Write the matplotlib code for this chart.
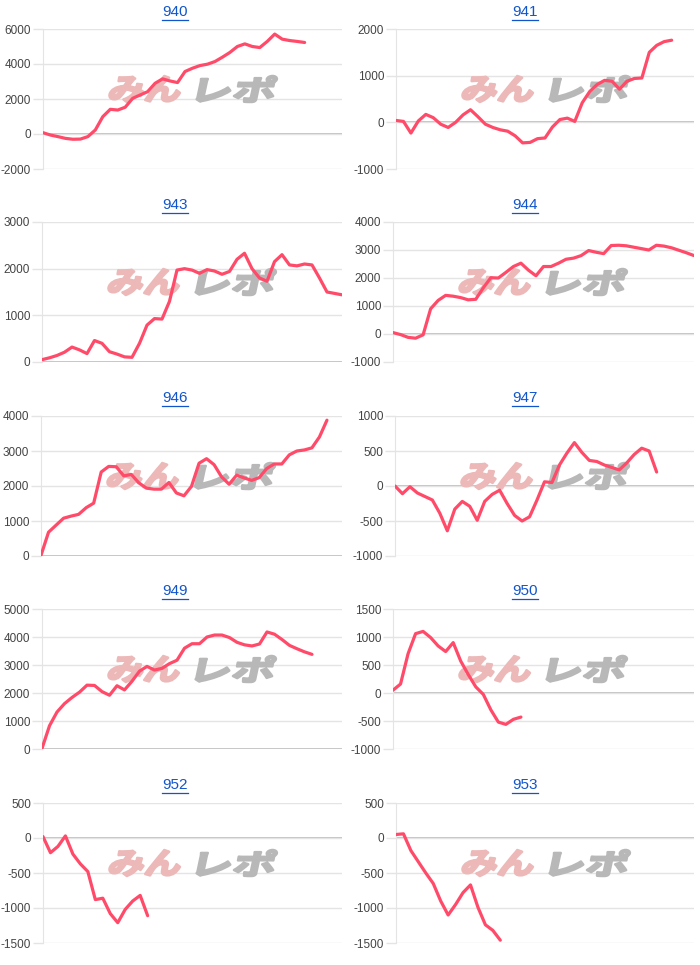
import numpy as np
import matplotlib.pyplot as plt
import matplotlib.transforms as mtransforms
from matplotlib.textpath import TextPath
from matplotlib.patches import PathPatch
from matplotlib.font_manager import FontProperties

plt.rcParams['font.family'] = ['Liberation Sans', 'DejaVu Sans']
plt.rcParams['axes.unicode_minus'] = False

# panel titles and y-axis settings
titles = ['940', '941', '943', '944', '946', '947', '949', '950', '952', '953']
y_min = [-2000, -1000, 0, -1000, 0, -1000, 0, -1000, -1500, -1500]
y_max = [6000, 2000, 3000, 4000, 4000, 1000, 5000, 1500, 500, 500]
y_step = [2000, 1000, 1000, 1000, 1000, 500, 1000, 500, 500, 500]

# series values (even steps on a shared x range)
s940 = [75, -60, -150, -250, -300, -290, -150, 230, 990, 1410, 1370, 1530, 2040, 2230,
        2420, 2900, 3150, 3030, 2940, 3570, 3760, 3910, 3990, 4140, 4390, 4660, 5000,
        5150, 5000, 4940, 5290, 5710, 5420, 5340, 5290, 5230]
s941 = [40, 20, -230, 30, 170, 100, -40, -110, 0, 160, 270, 120, -40, -110, -160, -190,
        -290, -440, -430, -350, -335, -100, 60, 90, 20, 420, 660, 810, 900, 880, 710, 880,
        940, 950, 1500, 1650, 1730, 1760]
s943 = [50, 90, 140, 210, 320, 260, 180, 460, 400, 220, 170, 110, 100, 400, 790, 930, 920,
        1300, 1970, 2000, 1970, 1900, 1980, 1950, 1880, 1940, 2200, 2330, 2000, 1800, 1730,
        2150, 2300, 2080, 2060, 2100, 2080, 1800, 1500, 1470, 1440]
s944 = [50, -20, -120, -150, -30, 900, 1200, 1380, 1350, 1300, 1220, 1240, 1650, 2010, 2000,
        2200, 2410, 2530, 2280, 2080, 2410, 2410, 2530, 2670, 2710, 2800, 2980, 2920, 2870,
        3160, 3170, 3150, 3100, 3050, 3000, 3170, 3140, 3080, 2990, 2900, 2800]
s946 = [20, 680, 880, 1080, 1140, 1190, 1380, 1510, 2400, 2560, 2550, 2290, 2330, 2090, 1940,
        1910, 1910, 2100, 1800, 1720, 1990, 2650, 2780, 2610, 2260, 2050, 2310, 2230, 2160,
        2240, 2500, 2630, 2630, 2890, 3000, 3030, 3090, 3400, 3880]
s947 = [0, -110, -10, -100, -150, -200, -390, -640, -330, -220, -290, -490, -220, -120, -60,
        -250, -420, -500, -440, -200, 60, 50, 300, 470, 620, 480, 365, 350, 300, 265, 230,
        330, 450, 540, 500, 200]
s949 = [20, 830, 1320, 1620, 1840, 2030, 2280, 2270, 2050, 1920, 2260, 2110, 2420, 2780, 2950,
        2820, 2880, 3050, 3170, 3600, 3760, 3760, 4000, 4070, 4070, 3980, 3810, 3720, 3680,
        3750, 4180, 4100, 3910, 3700, 3580, 3470, 3380]
s950 = [50, 160, 700, 1060, 1100, 990, 840, 740, 900, 570, 330, 110, -25, -300, -520, -560,
        -470, -430]
s952 = [20, -210, -120, 30, -230, -370, -480, -880, -860, -1080, -1210, -1020, -900, -820,
        -1110]
s953 = [50, 60, -180, -340, -500, -650, -900, -1100, -950, -780, -670, -990, -1240, -1320,
        -1460]
series = [s940, s941, s943, s944, s946, s947, s949, s950, s952, s953]
x_max = 40

W, H = 700, 965
fig = plt.figure(figsize=(W / 100, H / 100), dpi=100)

# layout in pixels
lefts = [43, 396, 42, 393, 41, 395, 42, 393, 43, 396]
rights = [342, 694]
tops = [29, 222, 416, 609, 803]
plot_h = 140
title_y = [12, 205, 398, 591, 785]
title_x = [175, 525]

wm_font = FontProperties(family='Noto Sans CJK JP', weight='bold')


def watermark(ax, text, x0, x1, y0, y1, color):
    # stretch a text path into a box given in pixels from the axes' lower left
    tp = TextPath((0, 0), text, size=1, prop=wm_font)
    bb = tp.get_extents()
    bw = ax.bbox.width
    bh = ax.bbox.height
    tr = (mtransforms.Affine2D()
          .translate(-bb.x0, -bb.y0)
          .scale((x1 - x0) / bb.width, (y1 - y0) / bb.height)
          .skew_deg(12, 0)
          .translate(x0, y0)
          .scale(1 / bw, 1 / bh)) + ax.transAxes
    ax.add_patch(PathPatch(tp, transform=tr, facecolor=color, edgecolor=color,
                           lw=1.8, joinstyle='round', zorder=2))


title_texts = []
for i, vals in enumerate(series):
    row, col = divmod(i, 2)
    l, r = lefts[i], rights[col]
    top = tops[row]
    ax = fig.add_axes([l / W, 1 - (top + plot_h) / H, (r - l) / W, plot_h / H])
    x = np.arange(len(vals))
    ax.plot(x, vals, color='#ff4b69', lw=2.3, solid_joinstyle='round',
            solid_capstyle='round', zorder=3)
    ax.set_xlim(0, x_max)
    ax.set_ylim(y_min[i], y_max[i])
    ax.set_yticks(np.arange(y_min[i], y_max[i] + 1, y_step[i]))
    ax.set_xticks([])
    ax.grid(axis='y', color='#e4e4e4', lw=1, zorder=0)
    ax.axhline(0, color='#b0b0b0', lw=1.1, zorder=1)
    for side in ['top', 'right', 'bottom']:
        ax.spines[side].set_visible(False)
    ax.spines['left'].set_color('#e4e4e4')
    ax.tick_params(axis='y', length=7.5, width=1, color='#e4e4e4', pad=1,
                   labelsize=8.5, labelcolor='#444444')

    # watermark logo
    watermark(ax, 'みん', 65, 135, 67, 93, '#ecb8b8')
    watermark(ax, 'レポ', 153, 229, 67, 93, '#b8b8b8')

    t = fig.text(title_x[col] / W, 1 - title_y[row] / H, titles[i], ha='center',
                 va='center', fontsize=11, color='#1155cc')
    title_texts.append(t)

# underline the titles
fig.canvas.draw()
renderer = fig.canvas.get_renderer()
for t in title_texts:
    bb = t.get_window_extent(renderer)
    y = bb.y0 - 1
    fig.add_artist(plt.Line2D([bb.x0 / W, bb.x1 / W], [y / H, y / H],
                              color='#1155cc', lw=0.9))

fig.savefig('out.png', dpi=100)
